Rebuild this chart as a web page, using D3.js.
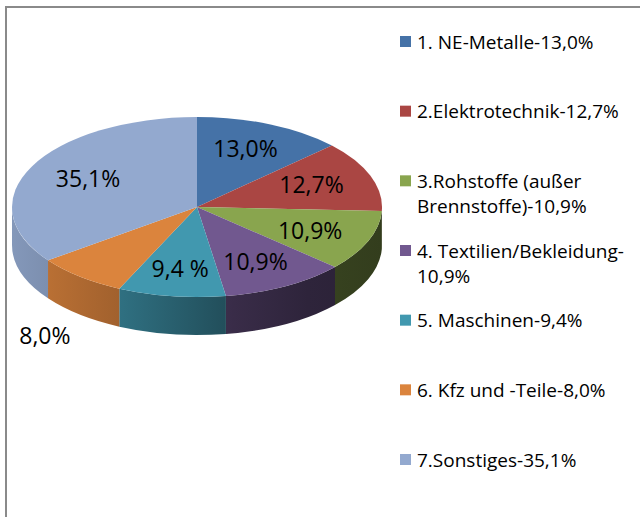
<!DOCTYPE html>
<html>
<head>
<meta charset="utf-8">
<script src="https://cdn.jsdelivr.net/npm/d3@7/dist/d3.min.js"></script>
<style>
  html, body { margin: 0; padding: 0; background: #fff; }
  svg { display: block; font-family: "Open Sans", sans-serif; }
</style>
</head>
<body>
<div id="chart"></div>
<script>
// Anteile der Warengruppen (%)
const values = [13.0, 12.7, 10.9, 10.9, 9.4, 8.0, 35.1];
const dataLabels = ["13,0%", "12,7%", "10,9%", "10,9%", "9,4 %", "8,0%", "35,1%"];
const legendLines = [
  ["1. NE-Metalle-13,0%"],
  ["2.Elektrotechnik-12,7%"],
  ["3.Rohstoffe (außer", "Brennstoffe)-10,9%"],
  ["4. Textilien/Bekleidung-", "10,9%"],
  ["5. Maschinen-9,4%"],
  ["6. Kfz und -Teile-8,0%"],
  ["7.Sonstiges-35,1%"]
];
const colors = ["#4572A7", "#AA4643", "#89A54E", "#71588F", "#4198AF", "#DB843D", "#93A9CF"];

const W = 640, H = 517;
const cx = 197, cy = 207, rx = 185, ry = 90, depth = 38;

const svg = d3.select("#chart").append("svg")
  .attr("width", W).attr("height", H);

// Rahmen
svg.append("rect")
  .attr("x", 6).attr("y", 7)
  .attr("width", W + 20).attr("height", H + 20)
  .attr("fill", "none").attr("stroke", "#8a8a8a").attr("stroke-width", 2);

const pie = d3.pie().sort(null).value(d => d)(values);
const pt = (a, dy = 0) => [cx + rx * Math.sin(a), cy - ry * Math.cos(a) + dy];

// Seitenflächen: dunkler nach rechts
const defs = svg.append("defs");
const shade = [[0, 0.9], [0.3, 0.73], [0.6, 0.5], [0.8, 0.41], [1, 0.37]];
colors.forEach((c, i) => {
  const g = defs.append("linearGradient")
    .attr("id", "side" + i)
    .attr("gradientUnits", "userSpaceOnUse")
    .attr("x1", cx - rx).attr("x2", cx + rx).attr("y1", 0).attr("y2", 0);
  const rgb = d3.rgb(c);
  shade.forEach(([o, f]) => {
    g.append("stop").attr("offset", o)
      .attr("stop-color", d3.rgb(rgb.r * f, rgb.g * f, rgb.b * f).formatHex());
  });
});

const sides = svg.append("g");
pie.forEach((d, i) => {
  const b1 = Math.max(d.startAngle, Math.PI / 2);
  const b2 = Math.min(d.endAngle, 3 * Math.PI / 2);
  if (b2 <= b1) return;
  const p1 = pt(b1), p2 = pt(b2), q2 = pt(b2, depth), q1 = pt(b1, depth);
  sides.append("path")
    .attr("d", `M${p1}A${rx},${ry} 0 0 1 ${p2}L${q2}A${rx},${ry} 0 0 0 ${q1}Z`)
    .attr("fill", `url(#side${i})`);
});

// Oberseite
const tops = svg.append("g");
pie.forEach((d, i) => {
  const large = d.endAngle - d.startAngle > Math.PI ? 1 : 0;
  tops.append("path")
    .attr("d", `M${cx},${cy}L${pt(d.startAngle)}A${rx},${ry} 0 ${large} 1 ${pt(d.endAngle)}Z`)
    .attr("fill", colors[i]);
});

// Datenbeschriftungen
svg.append("g").selectAll("text")
  .data(pie).join("text")
  .attr("transform", (d, i) => {
    const m = (d.startAngle + d.endAngle) / 2;
    const outside = values[i] < 9;
    const p = outside ? [cx + rx * 1.3 * Math.sin(m), cy - ry * 1.3 * Math.cos(m) + depth]
                      : [cx + rx * 0.66 * Math.sin(m), cy - ry * 0.7 * Math.cos(m)];
    return `translate(${p})`;
  })
  .attr("text-anchor", "middle")
  .attr("dy", "0.35em")
  .attr("font-size", 23)
  .attr("fill", "#000")
  .text((d, i) => dataLabels[i]);

// Legende
const ly = d3.scaleLinear().domain([0, legendLines.length - 1]).range([42, 460]);
const leg = svg.append("g").selectAll("g")
  .data(legendLines).join("g")
  .attr("transform", (d, i) => `translate(400,${ly(i)})`);
leg.append("rect")
  .attr("x", 0).attr("y", -6).attr("width", 11).attr("height", 11)
  .attr("fill", (d, i) => colors[i]);
leg.append("text")
  .attr("font-size", 19)
  .attr("fill", "#000")
  .selectAll("tspan")
  .data(d => d).join("tspan")
  .attr("x", 17)
  .attr("y", (d, j) => j * 25)
  .attr("dy", "0.35em")
  .text(d => d);
</script>
</body>
</html>
